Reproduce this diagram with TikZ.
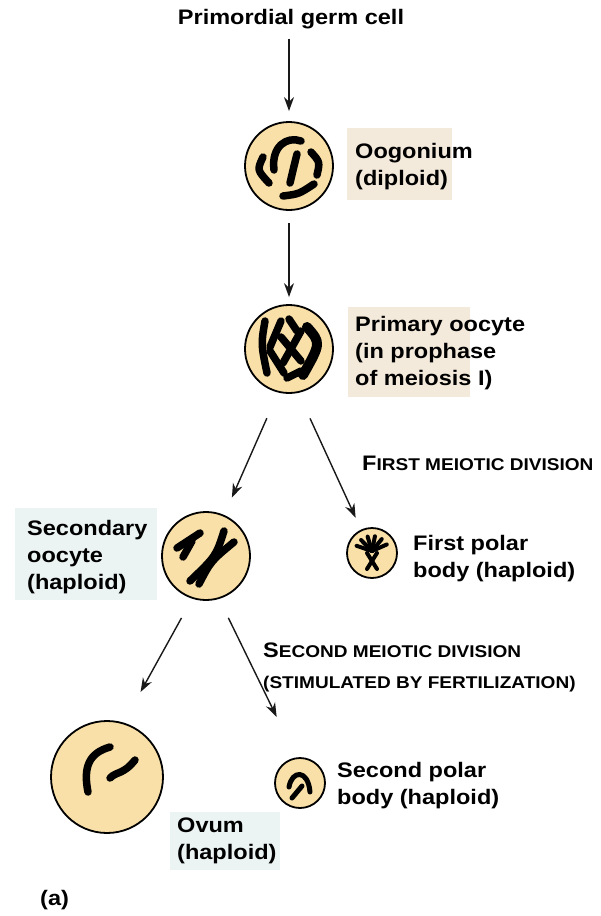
\documentclass[tikz,border=0pt]{standalone}
\usepackage{fontspec}
\setmainfont{Liberation Sans}[FakeStretch=1.12]
\usetikzlibrary{arrows.meta, positioning}

\definecolor{cellfill}{RGB}{249,224,168}
\definecolor{tanbg}{RGB}{244,234,219}
\definecolor{bluebg}{RGB}{236,243,243}
\definecolor{arrowgray}{RGB}{25,25,25}

% small-caps look for the division headings
\newcommand{\divhead}[2]{{\fontsize{21}{27}\selectfont #1}{\fontsize{17}{27}\selectfont #2}}

\begin{document}
\begin{tikzpicture}[
	x=1pt, y=-1pt,
	arr/.style={-{Stealth[length=14pt,width=10pt]}, line width=1.4pt, arrowgray},
	cell/.style={circle, draw=black, line width=1.8pt, fill=cellfill, inner sep=0pt},
	chromo/.style={line width=7.5pt, line cap=round, line join=round, black},
	txt/.style={font=\bfseries\fontsize{21}{27}\selectfont, inner sep=0pt, align=left},
	tanbox/.style={fill=tanbg, inner sep=0pt, anchor=north west},
	bluebox/.style={fill=bluebg, inner sep=0pt, anchor=north west}
]
\useasboundingbox (0,0) rectangle (601,916);

% label backgrounds
\node[tanbox, minimum width=105pt, minimum height=72pt] (oogbox) at (347,128) {};
\node[tanbox, minimum width=122pt, minimum height=90pt] (primbox) at (348,307) {};
\node[bluebox, minimum width=142pt, minimum height=92pt] (secbox) at (15,508) {};
\node[bluebox, minimum width=110pt, minimum height=58pt] (ovumbox) at (170,812) {};

% cells
\node[cell, minimum size=88pt] (oog) at (289,166) {};
\node[cell, minimum size=88pt] (prim) at (289,349) {};
\node[cell, minimum size=88pt] (sec) at (206,556) {};
\node[cell, minimum size=50pt] (pb1) at (372,553) {};
\node[cell, minimum size=112pt] (ovum) at (107,777) {};
\node[cell, minimum size=50pt] (pb2) at (300,783) {};

% labels
\node[txt, anchor=base] (pgc) at (291,24) {Primordial germ cell};
\node[txt, anchor=north west] (oogtxt) at (355,142.7) {Oogonium\\(diploid)};
\node[txt, anchor=north west] (primtxt) at (355,315.7) {Primary oocyte\\(in prophase\\of meiosis I)};
\node[txt, anchor=north west] (sectxt) at (27,519.7) {Secondary\\oocyte\\(haploid)};
\node[txt, anchor=north west] (pb1txt) at (413,534.7) {First polar\\body (haploid)};
\node[txt, anchor=north west] (pb2txt) at (337,761.7) {Second polar\\body (haploid)};
\node[txt, anchor=north west] (ovumtxt) at (177,817.7) {Ovum\\(haploid)};
\node[txt, anchor=base west] (div1) at (362,470) {\divhead{F}{IRST MEIOTIC DIVISION}};
\node[txt, anchor=base west] (div2) at (263,657) {\divhead{S}{ECOND MEIOTIC DIVISION}};
\node[txt, anchor=base west] (div2b) at (263,688) {\fontsize{17}{27}\selectfont (STIMULATED BY FERTILIZATION)};
\node[txt, anchor=base west] (parta) at (40,905) {(a)};

% arrows
\draw[arr, shorten <=10pt, shorten >=10pt] (pgc.south -| oog.north) -- (oog.north);
\draw[arr, shorten <=12pt, shorten >=7pt] (oog.south) -- (prim.north);
\draw[arr, shorten <=28pt, shorten >=19pt] (prim.256) -- (sec.66);
\draw[arr, shorten <=28pt, shorten >=13pt] (prim.282) -- (pb1.115);
\draw[arr, shorten <=22pt, shorten >=35pt] (sec.252) -- (ovum.73);
\draw[arr, shorten <=21pt, shorten >=45pt] (sec.287) -- (pb2.98);

% chromosomes: oogonium
\begin{scope}[shift={(oog.center)}]
	\draw[chromo] (-26,-9) .. controls (-32,4) .. (-20,17);
	\draw[chromo] (-15,4) .. controls (-18,-20) and (-2,-30) .. (12,-25);
	\draw[chromo] (22,-14) .. controls (31,-4) .. (28,9);
	\draw[chromo] (8,-12) .. controls (5,0) .. (1,17);
	\draw[chromo] (-6,30) .. controls (10,28) .. (25,18);
\end{scope}

% chromosomes: primary oocyte
\begin{scope}[shift={(prim.center)}]
	\draw[chromo] (-24,-28) .. controls (-28,-5) .. (-22,24);
	\draw[chromo] (-19,-2) -- (-8,-28);
	\draw[chromo] (-19,2) -- (-5,24);
	\draw[chromo] (-8,-12) -- (12,12);
	\draw[chromo] (12,-18) -- (-6,14);
	\draw[chromo, line width=10pt] (18,-22) .. controls (32,-6) .. (14,26);
	\draw[chromo] (0,-30) -- (8,-18);
	\draw[chromo] (-2,29) -- (12,22);
\end{scope}

% chromosomes: secondary oocyte
\begin{scope}[shift={(sec.center)}]
	\draw[chromo] (-29,-8) -- (-6,-23);
	\draw[chromo] (-23,1) -- (-14,-15);
	\draw[chromo] (18,-25) .. controls (10,0) .. (-16,25);
	\draw[chromo] (28,-14) .. controls (5,5) .. (-7,28);
\end{scope}

% first polar body
\begin{scope}[shift={(pb1.center)}]
	\foreach \a in {155,130,105,80,55,30}
		\draw[chromo, line width=4pt] (0,-2) -- ({17*cos(\a)},{-17*sin(\a)});
	\draw[chromo, line width=4pt] (-5,0) -- (5,16);
	\draw[chromo, line width=4pt] (5,0) -- (-5,16);
\end{scope}

% ovum
\begin{scope}[shift={(ovum.center)}]
	\draw[chromo] (3,-30) .. controls (-18,-24) and (-24,-10) .. (-19,15);
	\draw[chromo] (3,1) .. controls (10,-6) and (16,-2) .. (28,-17);
\end{scope}

% second polar body
\begin{scope}[shift={(pb2.center)}]
	\draw[chromo, line width=5pt] (-11,4) .. controls (-8,-13) and (8,-14) .. (10,9);
	\draw[chromo, line width=5pt] (-8,15) -- (2,3);
\end{scope}
\end{tikzpicture}
\end{document}
